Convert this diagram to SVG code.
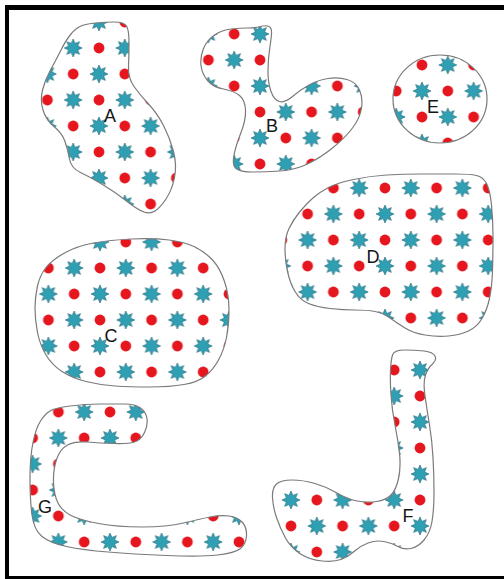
<svg xmlns="http://www.w3.org/2000/svg" xmlns:xlink="http://www.w3.org/1999/xlink" width="504" height="579" viewBox="0 0 504 579">
<style>
.blob{stroke:#7a7a7a;stroke-width:1.2}
.lbl{font-family:"Liberation Sans","Open Sans",Arial,sans-serif;font-size:18px;fill:#151515;text-anchor:middle}
.dot{fill:#e5161d}
.star{fill:#2f9fb3;stroke:#1d6777;stroke-width:0.6}
</style>
<defs>
<circle id="dot" class="dot" r="5.4"/>
<polygon id="star" class="star" points="0,-9 1.91,-4.62 6.36,-6.36 4.62,-1.91 9,0 4.62,1.91 6.36,6.36 1.91,4.62 0,9 -1.91,4.62 -6.36,6.36 -4.62,1.91 -9,0 -4.62,-1.91 -6.36,-6.36 -1.91,-4.62"/>
<g id="tile">
<rect width="51.6" height="52" fill="#fff"/>
<use href="#dot" x="12.9" y="13"/>
<use href="#star" x="38.7" y="13"/>
<use href="#star" x="12.9" y="39"/>
<use href="#dot" x="38.7" y="39"/>
</g>
<pattern id="pA" patternUnits="userSpaceOnUse" x="86.1" y="35" width="51.6" height="52"><use href="#tile"/></pattern>
<pattern id="pB" patternUnits="userSpaceOnUse" x="247.1" y="47" width="51.6" height="52"><use href="#tile"/></pattern>
<pattern id="pC" patternUnits="userSpaceOnUse" x="87.1" y="255" width="51.6" height="52"><use href="#tile"/></pattern>
<pattern id="pD" patternUnits="userSpaceOnUse" x="372.1" y="175" width="51.6" height="52"><use href="#tile"/></pattern>
<pattern id="pE" patternUnits="userSpaceOnUse" x="409.1" y="52" width="51.6" height="52"><use href="#tile"/></pattern>
<pattern id="pF" patternUnits="userSpaceOnUse" x="407.1" y="487" width="51.6" height="52"><use href="#tile"/></pattern>
<pattern id="pG" patternUnits="userSpaceOnUse" x="97.1" y="399" width="51.6" height="52"><use href="#tile"/></pattern>
</defs>
<rect width="504" height="579" fill="#fff"/>
<g id="frame" fill="#000">
<rect x="5" y="5" width="499" height="5"/>
<rect x="5" y="5" width="4" height="574"/>
<rect x="5" y="576" width="499" height="3"/>
</g>
<g id="connectors"/>
<g id="node-A">
<path class="blob" fill="url(#pA)" d="M81,26 Q86,24 95.5,23 Q105,22 114.5,22 Q124,22 126.5,26 Q129,30 129,42.5 Q129,55 128.5,66.5 Q128,78 134,86.5 Q140,95 148.5,104 Q157,113 163.5,125.5 Q170,138 173.5,151.5 Q177,165 174.5,177.5 Q172,190 166,199 Q160,208 155,211 Q150,214 144,212 Q138,210 126.5,201 Q115,192 102.5,184.5 Q90,177 80.5,172.5 Q71,168 69.5,159 Q68,150 65,141.5 Q62,133 54,126.5 Q46,120 43,110 Q40,100 42.5,90 Q45,80 50.5,70 Q56,60 61,50 Q66,40 71,34 Q76,28 81,26 Z"/>
<text class="lbl" x="110" y="122">A</text>
</g>
<g id="node-B">
<path class="blob" fill="url(#pB)" d="M214.5,35 Q222,30 231,29 Q240,28 247.5,28 Q255,28 260.5,26.5 Q266,25 269,26.5 Q272,28 271.5,34 Q271,40 269.5,50 Q268,60 268,71.5 Q268,83 271,91.5 Q274,100 279.5,101.5 Q285,103 292.5,96.5 Q300,90 309,85 Q318,80 328,78.5 Q338,77 347,79.5 Q356,82 359.5,90 Q363,98 361.5,108 Q360,118 352.5,128 Q345,138 332.5,148 Q320,158 307.5,164 Q295,170 280,171 Q265,172 252.5,172 Q240,172 236,168.5 Q232,165 234,155 Q236,145 241,132.5 Q246,120 245.5,110 Q245,100 239.5,95.5 Q234,91 223.5,89 Q213,87 207.5,80.5 Q202,74 201,65.5 Q200,57 203.5,48.5 Q207,40 214.5,35 Z"/>
<text class="lbl" x="272" y="132">B</text>
</g>
<g id="node-E">
<ellipse class="blob" fill="url(#pE)" cx="440" cy="99" rx="47" ry="44"/>
<text class="lbl" x="433" y="113">E</text>
</g>
<g id="node-D">
<path class="blob" fill="url(#pD)" d="M328.5,187.5 Q337,183 353.5,179.5 Q370,176 386.5,175 Q403,174 421.5,174 Q440,174 455,174 Q470,174 476.5,175.5 Q483,177 486.5,183.5 Q490,190 491.5,205 Q493,220 493,236.5 Q493,253 492.5,270 Q492,287 489.5,298.5 Q487,310 482,318.5 Q477,327 468.5,331 Q460,335 448.5,336 Q437,337 425,335 Q413,333 405,328 Q397,323 390,318 Q383,313 375,311.5 Q367,310 355,310 Q343,310 330,308.5 Q317,307 308.5,303.5 Q300,300 295,291.5 Q290,283 287.5,271.5 Q285,260 285,248.5 Q285,237 289,228.5 Q293,220 300,211.5 Q307,203 313.5,197.5 Q320,192 328.5,187.5 Z"/>
<text class="lbl" x="373" y="263">D</text>
</g>
<g id="node-C">
<path class="blob" fill="url(#pC)" d="M64.5,253 Q77,246 93.5,243 Q110,240 131.5,239 Q153,238 169,240 Q185,242 195,247 Q205,252 212.5,260 Q220,268 224.5,281.5 Q229,295 229,310 Q229,325 226.5,337.5 Q224,350 218.5,360 Q213,370 205.5,376 Q198,382 184,384.5 Q170,387 150,387 Q130,387 115,386 Q100,385 86,381.5 Q72,378 62,371.5 Q52,365 46,355 Q40,345 37.5,332.5 Q35,320 35,308.5 Q35,297 37.5,286 Q40,275 46,267.5 Q52,260 64.5,253 Z"/>
<text class="lbl" x="111" y="342">C</text>
</g>
<g id="node-G">
<path class="blob" fill="url(#pG)" d="M50,411 Q55,408 70,406 Q85,404 100,404 Q115,404 125,404 Q135,404 140.5,408 Q146,412 147,418.5 Q148,425 144.5,432.5 Q141,440 134.5,442 Q128,444 114,443.5 Q100,443 87.5,442 Q75,441 67.5,445 Q60,449 56.5,459.5 Q53,470 53.5,482.5 Q54,495 58,503 Q62,511 71,515.5 Q80,520 98.5,523.5 Q117,527 142,527 Q167,527 183.5,523 Q200,519 210,517 Q220,515 229,516 Q238,517 242.5,522.5 Q247,528 246.5,536 Q246,544 240.5,548.5 Q235,553 217.5,555 Q200,557 166.5,555.5 Q133,554 108,552 Q83,550 66.5,546.5 Q50,543 42,536.5 Q34,530 32,515 Q30,500 30,478.5 Q30,457 33,442.5 Q36,428 40.5,421 Q45,414 50,411 Z"/>
<text class="lbl" x="45" y="513">G</text>
</g>
<g id="node-F">
<path class="blob" fill="url(#pF)" d="M392.5,355 Q394,350 404.5,350 Q415,350 424,351 Q433,352 435,356 Q437,360 432.5,364 Q428,368 425.5,375 Q423,382 425,396 Q427,410 429.5,425 Q432,440 433,457.5 Q434,475 434,492.5 Q434,510 432,521.5 Q430,533 424,540 Q418,547 411,548.5 Q404,550 398,546.5 Q392,543 384,541.5 Q376,540 368,543 Q360,546 354,551.5 Q348,557 341,559.5 Q334,562 322,561 Q310,560 300.5,554 Q291,548 285.5,538 Q280,528 276.5,517.5 Q273,507 272.5,497.5 Q272,488 276.5,484 Q281,480 292,480 Q303,480 315,483.5 Q327,487 337,493 Q347,499 357,501 Q367,503 376.5,501.5 Q386,500 391,495 Q396,490 398.5,478.5 Q401,467 399.5,453.5 Q398,440 395,425 Q392,410 391,395 Q390,380 390.5,370 Q391,360 392.5,355 Z"/>
<text class="lbl" x="408" y="522">F</text>
</g>
</svg>
